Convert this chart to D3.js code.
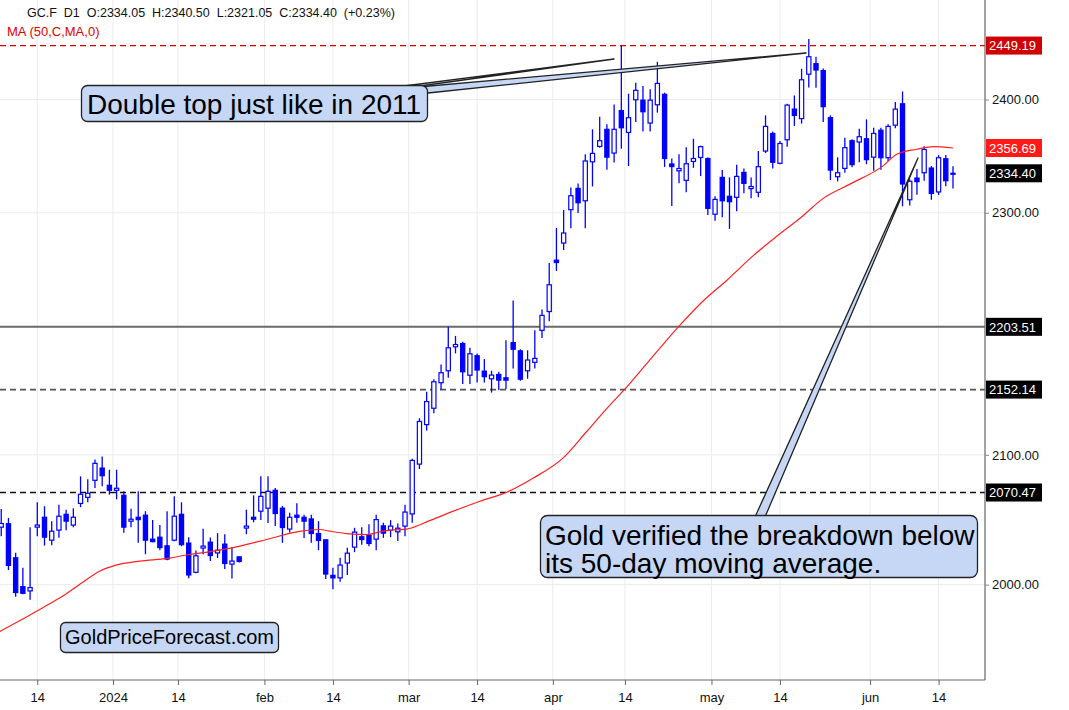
<!DOCTYPE html>
<html><head><meta charset="utf-8">
<script src="https://cdn.jsdelivr.net/npm/d3@7/dist/d3.min.js"></script>
<style>
body{margin:0;background:#fff}
svg{display:block}
text{font-family:"Liberation Sans",Arial,Helvetica,sans-serif}
</style>
</head><body>
<svg id="chart" width="1069" height="710"></svg>
<script>
// ---- data (daily GC.F candles, 2023-12-07 .. 2024-06-18, one entry per trading day) ----
const opens = [2043.7,2046.3,2020.3,1998.5,1995.3,2043.7,2051.3,2033.7,2041.4,2053.6,2045.3,2062.0,2066.7,2080.0,2089.6,2076.1,2072.2,2068.3,2048.3,2051.3,
2052.9,2034.5,2036.0,2029.4,2033.7,2053.6,2031.5,2009.3,2027.7,2032.2,2024.0,2030.7,2015.5,2021.0,2043.0,2051.3,2056.0,2058.3,2072.2,2058.3,
2042.2,2052.9,2051.3,2050.0,2038.8,2034.0,2007.0,2005.1,2016.3,2028.4,2036.3,2037.3,2034.5,2044.7,2041.4,2040.1,2044.5,2053.9,2092.7,2124.0,
2137.1,2157.7,2167.4,2187.0,2189.7,2163.8,2179.7,2167.1,2160.9,2164.4,2161.7,2190.5,2183.7,2167.4,2174.3,2200.6,2216.2,2259.4,2274.0,2302.7,
2321.2,2310.4,2344.5,2358.1,2373.3,2352.2,2390.1,2370.5,2399.8,2399.5,2378.9,2395.3,2404.7,2342.6,2336.6,2328.2,2344.8,2348.3,2347.4,2298.8,
2330.8,2314.3,2313.4,2335.2,2321.0,2317.8,2354.0,2369.6,2343.2,2364.0,2391.4,2382.9,2423.0,2432.6,2426.3,2383.7,2331.4,2338.7,2363.2,2362.0,
2364.9,2348.6,2372.5,2348.1,2377.0,2396.2,2311.3,2330.2,2334.9,2339.0,2318.1,2347.2,2334.05];
const highs = [2057.7,2050.8,2024.1,2012.8,2043.7,2062.9,2059.8,2048.3,2061.0,2057.2,2058.3,2083.1,2080.8,2096.4,2098.7,2088.3,2088.3,2071.4,2057.9,2071.4,
2056.0,2049.1,2045.3,2056.0,2067.5,2062.9,2036.0,2025.9,2042.4,2035.7,2039.1,2038.3,2028.4,2021.3,2057.2,2068.3,2083.1,2083.1,2074.0,2060.0,
2054.7,2062.2,2053.3,2053.3,2048.3,2034.0,2012.8,2020.3,2027.9,2043.2,2043.7,2046.0,2053.3,2047.1,2049.1,2046.5,2061.0,2096.9,2129.1,2150.4,
2160.6,2172.6,2203.5,2196.0,2191.1,2186.2,2181.6,2177.0,2167.4,2166.6,2192.4,2225.5,2185.0,2184.2,2200.6,2218.0,2256.9,2286.9,2302.4,2322.0,
2325.5,2351.1,2373.3,2384.6,2377.8,2395.6,2449.2,2405.3,2415.2,2412.2,2409.2,2434.3,2406.2,2347.5,2351.1,2357.3,2364.9,2358.8,2348.3,2314.3,
2337.2,2330.8,2342.0,2338.7,2330.8,2354.1,2385.8,2371.4,2363.0,2396.2,2403.7,2427.9,2455.3,2438.9,2428.1,2385.8,2348.5,2365.8,2364.4,2373.9,
2382.2,2374.8,2374.8,2377.8,2397.7,2407.3,2329.1,2338.1,2358.3,2340.7,2350.4,2350.4,2340.50];
const lows = [2036.8,2011.0,1991.0,1992.8,1988.6,2036.8,2029.6,2029.9,2035.5,2041.4,2043.7,2059.1,2062.9,2074.0,2075.3,2068.8,2065.2,2039.4,2043.7,2031.7,
2023.0,2032.2,2026.1,2018.5,2032.9,2029.1,2004.8,2008.6,2023.0,2017.8,2020.1,2011.8,2004.6,2016.7,2038.3,2047.5,2049.1,2046.8,2044.5,2031.7,
2039.6,2047.1,2035.3,2031.7,2026.1,2004.3,1996.5,2002.1,2007.3,2024.6,2030.2,2029.1,2026.1,2035.5,2036.0,2033.0,2036.8,2047.0,2088.8,2119.3,
2133.1,2152.3,2161.8,2181.6,2156.6,2156.6,2157.9,2157.9,2149.7,2151.8,2152.6,2169.3,2159.3,2161.0,2169.3,2194.3,2208.1,2250.3,2268.0,2286.7,
2299.8,2286.7,2322.9,2357.0,2337.5,2343.8,2356.0,2340.8,2379.8,2371.4,2371.4,2388.2,2340.0,2305.9,2325.6,2317.9,2339.2,2331.9,2298.1,2293.2,
2296.1,2286.1,2301.3,2316.9,2312.5,2313.4,2352.2,2338.7,2342.4,2357.9,2376.3,2378.4,2411.0,2410.6,2379.8,2328.5,2327.3,2334.9,2339.6,2344.1,
2342.4,2336.6,2337.5,2344.9,2374.2,2305.6,2306.3,2315.6,2327.8,2311.3,2315.4,2323.1,2321.05];
const closes = [2046.5,2014.5,1994.1,1993.5,1997.8,2045.3,2036.0,2040.6,2052.1,2048.3,2051.3,2069.1,2069.9,2093.3,2083.6,2072.2,2073.8,2043.7,2049.8,2049.5,
2033.7,2032.6,2028.1,2019.3,2052.1,2030.3,2007.3,2021.8,2029.2,2022.0,2026.1,2016.0,2017.8,2017.5,2044.5,2049.8,2067.5,2071.4,2054.2,2043.4,
2051.3,2051.3,2048.3,2038.8,2033.5,2008.0,2005.1,2014.8,2023.8,2039.9,2034.2,2031.2,2049.5,2039.1,2044.5,2042.9,2055.3,2095.6,2126.5,2142.5,
2158.5,2165.8,2186.2,2188.9,2166.6,2181.3,2168.0,2162.6,2163.9,2159.8,2159.8,2185.0,2160.6,2176.2,2177.5,2213.0,2238.6,2257.4,2282.6,2314.8,
2308.7,2345.2,2351.9,2363.2,2348.6,2373.3,2374.7,2383.7,2408.3,2389.0,2399.5,2414.6,2347.4,2340.3,2338.6,2342.8,2347.4,2357.9,2303.8,2311.6,
2310.4,2309.6,2331.7,2325.6,2322.8,2340.2,2375.9,2344.1,2360.7,2395.0,2385.7,2417.9,2438.9,2426.8,2393.6,2337.2,2334.9,2357.0,2342.0,2366.7,
2346.4,2369.6,2348.1,2375.9,2391.4,2325.0,2327.4,2327.1,2355.4,2316.8,2348.1,2327.9,2334.40];

// 50-day moving average (bar index, value)
const maIndex  = [-0.2,2.6,5.8,8.6,11.2,13.7,15.8,19.2,23.0,25.7,29.4,33.1,36.8,41.4,44.2,45.6,47.9,50.7,52.5,54.4,56.2,59.5,62.7,66.4,70.1,73.8,77.9,81.2,84.0,86.8,90.9,94.1,97.2,100.6,104.3,107.1,111.2,114.0,117.7,122.3,124.2,127.0,129.3,132];
const maValues = [1965.1,1973.2,1982.9,1991.6,2001.5,2010.3,2014.5,2017.8,2019.8,2022.4,2025.4,2029.2,2034.2,2040.5,2041.9,2040.6,2038.8,2038.0,2040.1,2041.6,2042.2,2048.9,2056.0,2063.7,2070.7,2081.8,2097.4,2118.5,2137.0,2154.5,2182.9,2204.7,2224.2,2242.2,2263.3,2277.5,2297.5,2312.5,2324.9,2340.9,2351.2,2355.6,2358.0,2356.69];

// x-axis ticks (bar-index positions; weekend / month boundaries fall between bars)
const xTickPos    = [5, 15.5, 24.5, 36.5, 46, 56.5, 66, 76.5, 86.5, 98.5, 108, 120.5, 130];
const xTickLabels = ["14","2024","14","feb","14","mar","14","apr","14","may","14","jun","14"];
const yTicks = [2000, 2100, 2300, 2400];

// horizontal levels
const levelValues = [2449.19, 2203.51, 2152.14, 2070.47];
const levelKinds  = ["redDash", "solid", "greyDash", "blackDash"];

const header = "GC.F  D1  O:2334.05  H:2340.50  L:2321.05  C:2334.40  (+0.23%)";
const maLabel = "MA (50,C,MA,0)";

// ---- layout ----
const W = 1069, H = 710;
const plotRight = 985, plotBottom = 680;
const svg = d3.select("#chart");

const x = d3.scaleLinear().domain([0, 132]).range([1.24, 953]);
const y = d3.scaleLog().domain([1929.6, 2491.5]).range([plotBottom, 0]);

svg.append("rect").attr("width", W).attr("height", H).attr("fill", "#fff");

svg.append("defs").append("clipPath").attr("id", "plotClip")
  .append("rect").attr("x", 0).attr("y", 0).attr("width", plotRight).attr("height", plotBottom);

// grid
const grid = svg.append("g").attr("clip-path", "url(#plotClip)");
grid.selectAll("line.v").data(xTickPos).join("line")
  .attr("x1", d => x(d)).attr("x2", d => x(d)).attr("y1", 0).attr("y2", plotBottom)
  .attr("stroke", "#ececec").attr("stroke-width", 1);
grid.selectAll("line.h").data(yTicks).join("line")
  .attr("x1", 0).attr("x2", plotRight).attr("y1", d => y(d)).attr("y2", d => y(d))
  .attr("stroke", "#ececec").attr("stroke-width", 1);

// level lines
const levelStyle = {
  redDash:   {stroke: "#d40000", width: 1.3, dash: "6,4"},
  solid:     {stroke: "#6a6a6a", width: 2,   dash: null},
  greyDash:  {stroke: "#555",    width: 1.6, dash: "6,4"},
  blackDash: {stroke: "#111",    width: 1.4, dash: "6,4"}
};
const lv = svg.append("g");
levelValues.forEach((v, i) => {
  const s = levelStyle[levelKinds[i]];
  lv.append("line").attr("x1", 0).attr("x2", plotRight)
    .attr("y1", y(v)).attr("y2", y(v))
    .attr("stroke", s.stroke).attr("stroke-width", s.width)
    .attr("stroke-dasharray", s.dash);
});

// candles
const idx = d3.range(opens.length);
const cg = svg.append("g").attr("clip-path", "url(#plotClip)");
const blue = "#0000ff";
cg.selectAll("line.w").data(idx).join("line")
  .attr("x1", i => x(i)).attr("x2", i => x(i))
  .attr("y1", i => y(highs[i])).attr("y2", i => y(lows[i]))
  .attr("stroke", blue).attr("stroke-width", 1.3);
cg.selectAll("rect.b").data(idx).join("rect")
  .attr("x", i => x(i) - 2.1).attr("width", 4.2)
  .attr("y", i => y(Math.max(opens[i], closes[i])))
  .attr("height", i => Math.max(1, Math.abs(y(opens[i]) - y(closes[i]))))
  .attr("fill", i => closes[i] >= opens[i] ? "#fff" : blue)
  .attr("stroke", blue).attr("stroke-width", 1.2);

// moving average
cg.append("path")
  .datum(d3.range(maIndex.length))
  .attr("d", d3.line().x(i => x(maIndex[i])).y(i => y(maValues[i])).curve(d3.curveMonotoneX))
  .attr("fill", "none").attr("stroke", "#ff2020").attr("stroke-width", 1.2);

// axes
svg.append("line").attr("x1", 0).attr("x2", plotRight).attr("y1", plotBottom).attr("y2", plotBottom)
  .attr("stroke", "#666").attr("stroke-width", 1.2);
svg.append("line").attr("x1", plotRight).attr("x2", plotRight).attr("y1", 0).attr("y2", plotBottom)
  .attr("stroke", "#666").attr("stroke-width", 1.2);

const xAxis = svg.append("g").attr("transform", `translate(0,${plotBottom})`)
  .call(d3.axisBottom(x).tickValues(xTickPos).tickFormat((d, i) => xTickLabels[i]).tickSize(5).tickSizeOuter(0));
xAxis.select(".domain").remove();
xAxis.selectAll(".tick line").attr("stroke", "#666");
xAxis.selectAll(".tick text").attr("fill", "#111").attr("font-size", 13).attr("dy", "1.05em")
  .attr("font-family", '"Liberation Sans",Arial,Helvetica,sans-serif');

const yAxis = svg.append("g").attr("transform", `translate(${plotRight},0)`)
  .call(d3.axisRight(y).tickValues(yTicks).tickFormat(d3.format(".2f")).tickSize(4).tickSizeOuter(0));
yAxis.select(".domain").remove();
yAxis.selectAll(".tick line").attr("stroke", "#888");
yAxis.selectAll(".tick text").attr("fill", "#111").attr("font-size", 13).attr("x", 7)
  .attr("font-family", '"Liberation Sans",Arial,Helvetica,sans-serif');

// price labels on the right axis
const lastClose = closes[closes.length - 1];
const lastMA = maValues[maValues.length - 1];
const tags = [
  {v: levelValues[0], bg: "#d00000"},
  {v: lastMA, bg: "#ff1a1a"},
  {v: lastClose, bg: "#000"},
  {v: levelValues[1], bg: "#000"},
  {v: levelValues[2], bg: "#000"},
  {v: levelValues[3], bg: "#000"}
];
const tg = svg.append("g");
tags.forEach(t => {
  tg.append("rect").attr("x", plotRight + 1).attr("y", y(t.v) - 9).attr("width", 56).attr("height", 18).attr("fill", t.bg);
  tg.append("text").attr("x", plotRight + 4).attr("y", y(t.v)).attr("dy", "0.36em")
    .attr("fill", "#fff").attr("font-size", 13).text(d3.format(".2f")(t.v));
});

// header
svg.append("text").attr("x", 27).attr("y", 17).attr("font-size", 12.5).attr("fill", "#111")
  .style("white-space", "pre").text(header);
svg.append("text").attr("x", 7).attr("y", 36).attr("font-size", 13).attr("fill", "#e00000").text(maLabel);

// annotations
const boxFill = "#c6d7f6", boxStroke = "#222";
const ann = svg.append("g");
// callouts for "Double top"
ann.append("polygon").attr("points", "404,86 420,86 614,59").attr("fill", boxFill).attr("stroke", boxStroke).attr("stroke-width", 1.3).attr("stroke-linejoin", "round");
ann.append("polygon").attr("points", "418,87 428,93 806,53").attr("fill", boxFill).attr("stroke", boxStroke).attr("stroke-width", 1.3).attr("stroke-linejoin", "round");
ann.append("rect").attr("x", 81.5).attr("y", 85.5).attr("width", 346).attr("height", 36).attr("rx", 6)
  .attr("fill", boxFill).attr("stroke", boxStroke).attr("stroke-width", 1.3);
ann.append("text").attr("x", 87).attr("y", 113.5).attr("font-size", 28).attr("fill", "#000").text("Double top just like in 2011");

// callout for breakdown box
ann.append("polygon").attr("points", "755,517 765,517 918,158").attr("fill", boxFill).attr("stroke", boxStroke).attr("stroke-width", 1.3).attr("stroke-linejoin", "round");
ann.append("rect").attr("x", 540.5).attr("y", 515.5).attr("width", 437).attr("height", 62).attr("rx", 7)
  .attr("fill", boxFill).attr("stroke", boxStroke).attr("stroke-width", 1.3);
ann.append("text").attr("x", 545).attr("y", 545).attr("font-size", 28).attr("fill", "#000").text("Gold verified the breakdown below");
ann.append("text").attr("x", 545).attr("y", 572.5).attr("font-size", 28).attr("fill", "#000").text("its 50-day moving average.");

ann.append("rect").attr("x", 60.5).attr("y", 622.5).attr("width", 218).attr("height", 30).attr("rx", 5)
  .attr("fill", boxFill).attr("stroke", boxStroke).attr("stroke-width", 1.3);
ann.append("text").attr("x", 169.5).attr("y", 644).attr("font-size", 20).attr("text-anchor", "middle").attr("fill", "#000").text("GoldPriceForecast.com");
</script>
</body></html>
